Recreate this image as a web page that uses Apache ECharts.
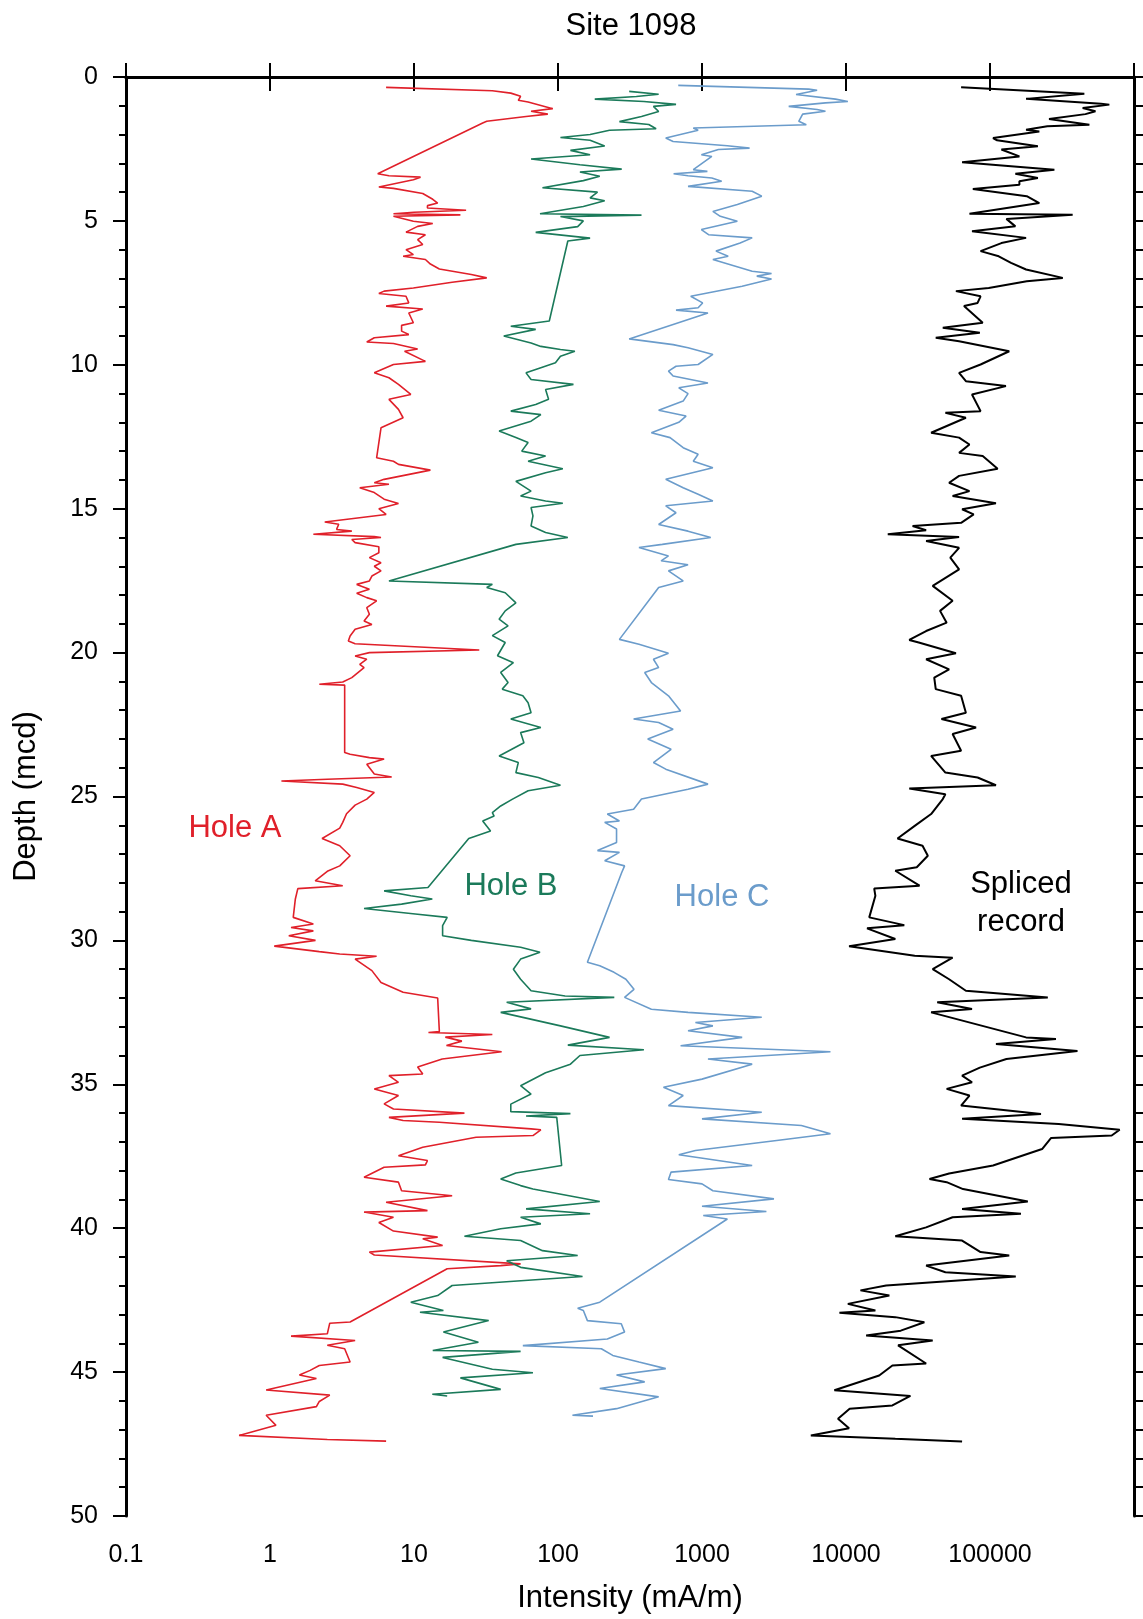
<!DOCTYPE html>
<html>
<head>
<meta charset="utf-8">
<title>Site 1098</title>
<script src="https://cdn.jsdelivr.net/npm/echarts@6/dist/echarts.min.js"></script>
<style>
html,body{margin:0;padding:0;background:#fff}
#chart{width:1143px;height:1619px}
</style>
</head>
<body>
<div id="chart"></div>
<script>
// tick labels of the log intensity axis (one per decade, 0.1 .. 1e6)
var xTickLabels = ['0.1', '1', '10', '100', '1000', '10000', '100000', ''];

// Hole A (red)
var depthA = [0.36,0.48,0.56,0.67,0.81,0.87,1.10,1.19,1.29,1.37,1.54,1.60,3.36,3.43,3.48,3.57,3.82,3.87,4.05,4.25,4.38,4.47,4.55,4.63,4.70,4.75,4.79,4.84,
    5.01,5.09,5.19,5.39,5.48,5.65,5.82,6.00,6.17,6.23,6.34,6.50,6.67,6.86,6.98,7.13,7.33,7.44,7.52,7.62,7.85,7.96,8.06,8.20,8.54,8.63,8.83,8.95,
    9.06,9.21,9.26,9.45,9.53,9.88,9.99,10.28,10.45,10.68,11.03,11.20,11.55,11.84,12.19,13.23,13.35,13.46,13.66,13.98,14.10,14.15,14.27,14.44,14.67,14.82,
    15.00,15.20,15.46,15.54,15.72,15.78,15.89,15.97,16.00,16.07,16.18,16.32,16.53,16.70,16.88,17.00,17.16,17.34,17.51,17.63,17.80,17.94,18.09,18.20,
    18.44,18.67,18.90,19.02,19.19,19.42,19.60,19.69,19.91,20.00,20.12,20.23,20.41,20.52,20.87,21.02,21.10,21.13,23.47,23.53,23.65,23.70,23.88,24.22,
    24.32,24.40,24.46,24.57,24.69,24.86,25.09,25.30,25.60,25.90,26.10,26.46,26.71,27.06,27.41,27.60,27.93,28.10,28.20,28.56,29.20,29.43,29.55,29.67,
    29.84,30.00,30.20,30.39,30.47,30.55,30.65,31.05,31.46,31.80,32.00,33.17,33.20,33.27,33.36,33.50,33.65,33.87,34.12,34.40,34.64,34.70,34.93,35.16,
    35.39,35.68,35.86,36.00,36.15,36.26,36.32,36.55,36.58,36.78,36.84,37.19,37.48,37.65,37.80,37.88,38.23,38.40,38.70,38.87,39.10,39.39,39.44,39.62,
    39.80,40.10,40.31,40.37,40.60,40.83,40.93,41.24,41.30,41.41,43.26,43.30,43.67,43.75,43.90,44.07,44.19,44.65,44.77,44.94,45.10,45.22,45.62,45.80,
    46.02,46.20,46.50,46.85,47.20,47.34,47.40];
var intensityA = [6.4,35,47,55,53,62,92,65,85,60,32,30,5.6,6.7,11.1,9.9,5.7,7.2,11.5,13.5,14.6,12.4,12.4,23,10,7.2,21,7.2,
    9.9,13.5,10.6,8.8,12,10.6,11.5,8.8,9.9,8.4,12,13,15,25,32,18.4,9.9,6.2,5.7,8.8,9.2,6.4,11.5,9.2,9.9,8.2,8.2,9.2,
    5.3,4.7,7.2,10.6,8.6,12,7.2,5.3,6.7,7.8,9.5,6.7,7.8,8.4,5.9,5.5,7.2,7.8,13,6.2,5.3,6.7,4.2,5.3,6.2,7.8,
    5.7,6.4,2.4,3.0,2.9,3.7,2.0,5.3,5.9,3.7,3.9,5.7,5.7,4.9,5.9,5.3,5.9,5.1,4.9,4.0,4.9,4.0,4.7,5.5,
    4.7,4.9,4.5,5.1,3.9,3.6,3.5,3.9,28.4,4.9,3.9,4.7,4.2,4.5,3.7,3.2,2.2,3.3,3.3,3.6,4.9,6.2,4.7,5.3,
    7.0,2.5,1.2,3.2,4.0,5.3,4.7,3.9,3.4,3.2,3.05,2.3,3.05,3.6,3.05,2.5,2.06,3.2,1.56,1.5,1.45,2.0,1.4,2.0,
    1.35,2.07,1.07,2.2,3.05,5.5,3.9,5.1,5.9,8.4,14.6,15,12.6,35,16.5,21.5,16.8,40.6,15.7,10.6,11.5,6.7,7.8,5.3,
    7.8,6.2,7.2,22.4,6.7,8.4,15,65,76,67,27,11.5,7.8,12.4,12.0,6.2,4.5,7.8,8.2,18.4,6.4,12.4,4.5,7.2,
    5.7,7.2,14.6,11.5,15.8,4.9,5.3,55,40,17,3.6,2.6,2.5,1.4,3.9,2.5,3.3,3.6,2.2,1.9,1.6,2.1,0.94,2.6,
    2.2,2.1,0.94,1.1,0.61,2.5,6.4];

// Hole B (green)
var depthB = [0.50,0.60,0.68,0.77,0.85,0.95,1.02,1.20,1.37,1.55,1.65,1.80,1.85,2.00,2.10,2.20,2.40,2.55,2.70,2.85,3.05,3.20,3.30,3.45,3.60,3.85,
    4.00,4.20,4.30,4.50,4.75,4.80,4.85,5.00,5.20,5.40,5.60,5.70,8.48,8.66,8.77,9.00,9.24,9.36,9.47,9.53,9.70,9.93,10.10,10.28,10.51,10.68,10.86,
    11.20,11.38,11.61,11.73,11.96,12.30,12.53,12.70,13.00,13.17,13.35,13.61,13.75,14.05,14.39,14.56,14.73,14.81,14.96,15.25,15.60,15.83,16.00,16.24,
    17.51,17.63,17.74,17.92,18.27,18.55,18.84,19.07,19.41,19.65,20.11,20.35,20.69,21.04,21.27,21.50,21.74,22.09,22.31,22.60,22.78,23.13,23.59,23.82,
    24.17,24.34,24.61,24.80,25.10,25.33,25.56,25.68,25.85,26.20,26.46,28.16,28.28,28.45,28.56,28.74,28.89,29.08,29.20,29.49,29.84,30.00,30.24,30.41,
    30.65,31.00,31.35,31.75,31.93,31.98,32.15,32.38,32.50,32.97,33.37,33.64,33.80,34.00,34.30,34.60,35.05,35.34,35.69,35.95,36.02,36.10,36.15,37.82,
    38.08,38.29,38.52,38.64,39.07,39.33,39.50,39.62,39.85,40.02,40.28,40.43,40.78,40.95,41.13,41.36,41.68,41.99,42.34,42.57,42.86,42.92,43.21,43.61,
    43.96,44.25,44.28,44.49,44.90,45.02,45.20,45.60,45.77,45.83];
var intensityB = [312,500,350,180,395,660,460,500,380,267,427,480,228,167,104,167,211,122,167,65,142,277,142,195,150,78,
    188,167,211,150,75,380,104,150,137,70,167,117,87,47,70,42,65,76,104,131,104,96,76,60,65,128,82,
    86,70,47,76,65,39,51,62,56,82,62,108,82,51,65,55,82,108,65,67,65,82,117,51,
    6.7,35,32,43,51,43,39,45,35,43,38,49,40,45,41,57,62,65,47,76,55,58,39,53,
    51,73,104,62,48,40,35,36,30,34,24,12.5,6.2,9.5,13.4,8.2,4.5,10.2,17,15.8,15.8,25,55,75,
    55,49,55,65,112,246,44,65,40,104,228,117,395,142,122,82,55,65,47,47,122,60,98,106,
    51,40,55,67,195,60,167,55,76,40,22.4,55,78,137,44,55,148,18.4,14.6,9.5,16,11,33,16,
    28,13.5,55,15.8,35,67,21,40,13.4,17];

// Hole C (blue)
var depthC = [0.29,0.42,0.46,0.61,0.77,0.85,0.90,1.02,1.13,1.19,1.29,1.54,1.66,1.77,1.85,2.12,2.24,2.39,2.47,2.52,2.70,2.76,3.22,3.28,3.36,3.43,
    3.51,3.62,3.80,3.97,4.14,4.43,4.67,4.84,5.01,5.30,5.48,5.59,5.77,6.05,6.23,6.34,6.75,6.83,6.92,7.02,7.27,7.62,7.85,8.02,8.10,8.20,9.10,9.30,
    9.41,9.64,9.99,10.05,10.22,10.39,10.63,10.80,11.00,11.26,11.58,11.78,12.00,12.36,12.53,12.88,13.11,13.35,13.58,13.98,14.27,14.50,14.73,14.90,
    15.14,15.55,15.78,16.00,16.24,16.35,16.64,16.81,16.95,17.16,17.51,17.74,19.54,19.71,20.02,20.23,20.52,20.69,21.04,21.50,22.03,22.31,22.43,22.66,
    23.00,23.36,23.82,24.05,24.57,24.75,25.09,25.44,25.61,25.85,25.90,26.13,26.60,26.88,26.94,27.23,27.41,27.64,30.76,30.88,31.11,31.35,31.70,31.98,
    32.39,32.50,32.67,32.85,32.97,33.14,33.37,33.66,33.87,34.12,34.30,34.82,35.10,35.39,35.74,35.97,36.20,36.43,36.72,36.95,37.30,37.45,37.82,38.05,
    38.31,38.46,38.70,38.98,39.24,39.42,39.56,39.68,42.57,42.78,42.86,43.21,43.32,43.61,43.85,44.08,44.19,44.42,44.65,44.88,45.10,45.34,45.57,45.86,
    46.27,46.50,46.53];
var intensityC = [684,5500,6300,4500,8450,10300,7200,4000,6300,7200,5000,4700,5300,870,940,560,630,1500,2140,1300,990,1170,870,1090,635,800,
    1170,1370,800,2230,2600,1760,1190,1340,1760,990,1110,2230,1840,1250,1520,1190,2230,3040,2400,3040,1900,835,1010,940,660,1100,312,630,
    800,1190,940,660,585,630,1100,690,800,740,500,775,690,445,600,740,940,870,1190,560,740,940,1190,560,
    660,500,800,1150,530,365,585,520,800,585,740,500,267,365,585,460,500,400,445,585,710,335,500,630,
    420,610,460,560,1100,800,380,335,220,267,211,255,255,188,267,211,290,277,160,195,245,296,337,290,
    445,800,2600,900,1190,800,1900,710,7800,1100,2230,1000,540,740,585,2600,1000,4900,7800,3300,900,690,2230,610,
    585,1000,1190,3160,1000,2800,1020,1500,195,137,150,160,275,290,220,57,200,240,365,560,255,400,195,500,
    255,126,175];

// Spliced record (black)
var depthS = [0.36,0.58,0.76,0.93,0.96,1.08,1.19,1.29,1.46,1.66,1.71,1.83,1.89,2.12,2.20,2.41,2.52,2.76,2.96,3.10,3.22,3.36,3.51,3.62,3.74,3.89,
    4.14,4.38,4.75,4.79,4.93,5.19,5.36,5.59,5.77,6.05,6.23,6.46,6.69,6.98,7.10,7.33,7.44,7.62,7.85,7.96,8.54,8.71,8.89,9.06,9.18,9.53,9.99,10.28,
    10.57,10.74,11.03,11.61,11.67,11.84,12.36,12.53,12.77,13.06,13.17,13.61,13.86,14.10,14.39,14.56,14.81,15.02,15.20,15.49,15.60,15.75,15.89,15.98,
    16.12,16.36,16.70,17.11,17.68,18.20,18.55,18.96,19.25,19.56,19.65,20.02,20.23,20.58,20.87,21.27,21.50,22.09,22.31,22.60,22.83,23.41,23.59,24.17,
    24.34,24.61,24.72,24.92,25.09,25.61,26.02,26.46,26.71,27.06,27.46,27.58,28.10,28.20,28.45,29.20,29.47,29.58,29.95,30.20,30.53,30.60,31.00,31.35,
    31.75,31.98,32.15,32.38,32.50,33.37,33.43,33.60,33.84,34.12,34.42,34.70,34.93,35.16,35.39,35.74,36.03,36.20,36.38,36.58,36.78,36.87,37.25,37.82,
    38.10,38.29,38.40,38.64,39.07,39.33,39.50,39.62,39.97,40.28,40.43,40.83,40.95,41.30,41.53,41.68,41.99,42.16,42.34,42.63,42.86,42.94,43.09,43.27,
    43.56,43.73,43.90,44.07,44.70,44.77,45.12,45.63,45.83,46.16,46.27,46.62,46.95,47.20,47.32,47.41];
var intensityS = [63000,452000,178000,590000,674000,440000,540000,460000,257000,490000,250000,178000,220000,105000,112000,215000,120000,160000,64000,140000,280000,150000,215000,160000,160000,76000,
    180000,220000,72000,375000,130000,150000,75000,178000,120000,86000,115000,140000,178000,320000,180000,98000,58000,86000,82000,66000,89000,47000,85000,42000,61000,136000,86000,61000,
    68000,129000,75000,86000,49000,68000,39000,61000,72000,61000,89000,113000,61000,52000,72000,55000,110000,64000,77000,63000,29000,36000,19500,61000,
    36000,61000,53000,61000,40000,55000,45000,50000,36000,27500,32000,58000,36000,52000,41000,42000,63000,68000,46000,80000,55000,63000,39000,49000,
    82000,110000,27500,49000,47000,39000,30000,22800,34000,37000,31000,22000,32400,15700,16000,14500,25400,14000,22000,10500,30000,55000,40000,52000,
    68000,252000,43000,75000,39000,178000,287000,110000,405000,130000,85000,64000,75000,50000,72000,63000,226000,64000,300000,795000,700000,265000,230000,105000,
    52000,38000,50000,65000,183000,64000,164000,55000,36000,22000,64000,86000,136000,36000,49000,151000,19000,12600,20000,10300,16000,9000,22000,35000,
    24000,13800,40000,23000,36000,21000,17000,8300,28000,21000,10600,8800,10500,5700,22000,64000];

var FONT = 'Liberation Sans, Arial, Helvetica, sans-serif';

function pairs(depths, values) {
    var out = [];
    for (var i = 0; i < depths.length; i++) {
        out.push([values[i], depths[i]]);
    }
    return out;
}

function profile(name, depths, values, color, width) {
    return {
        name: name,
        type: 'line',
        xAxisIndex: 0,
        yAxisIndex: 0,
        showSymbol: false,
        symbol: 'none',
        lineStyle: {color: color, width: width},
        data: pairs(depths, values)
    };
}

var chart = echarts.init(document.getElementById('chart'));

var option = {
    animation: false,
    backgroundColor: '#fff',
    grid: {left: 126, right: 9, top: 77, bottom: 102},
    xAxis: [{
        type: 'log',
        logBase: 10,
        min: 0.1,
        max: 1000000,
        position: 'bottom',
        name: 'Intensity (mA/m)',
        nameLocation: 'middle',
        nameGap: 67,
        nameTextStyle: {fontFamily: FONT, fontSize: 31, color: '#000'},
        axisLine: {lineStyle: {color: '#000', width: 3}},
        axisTick: {show: true, length: 14, lineStyle: {color: '#000', width: 2}},
        axisLabel: {
            margin: 27,
            fontFamily: FONT,
            fontSize: 25,
            color: '#000',
            formatter: function (v) {
                var k = Math.round(Math.log(v) / Math.LN10) + 1;
                return xTickLabels[k] || '';
            }
        },
        splitLine: {show: false}
    }, {
        type: 'log',
        logBase: 10,
        min: 0.1,
        max: 1000000,
        position: 'top',
        axisLine: {lineStyle: {color: '#000', width: 3}},
        axisTick: {show: true, length: 14, lineStyle: {color: '#000', width: 2}},
        axisLabel: {show: false},
        splitLine: {show: false}
    }],
    yAxis: [{
        type: 'value',
        inverse: true,
        min: 0,
        max: 50,
        interval: 5,
        position: 'left',
        name: 'Depth (mcd)',
        nameLocation: 'middle',
        nameRotate: 90,
        nameGap: 84,
        nameTextStyle: {fontFamily: FONT, fontSize: 31, color: '#000'},
        axisLine: {show: true, lineStyle: {color: '#000', width: 3}},
        axisTick: {show: true, length: 13, lineStyle: {color: '#000', width: 2}},
        minorTick: {show: true, splitNumber: 5, length: 7, lineStyle: {color: '#000', width: 2}},
        axisLabel: {margin: 28, fontFamily: FONT, fontSize: 25, color: '#000'},
        splitLine: {show: false},
        minorSplitLine: {show: false}
    }, {
        type: 'value',
        inverse: true,
        min: 0,
        max: 50,
        interval: 5,
        position: 'right',
        axisLine: {show: true, lineStyle: {color: '#000', width: 3}},
        axisTick: {show: true, length: 9, lineStyle: {color: '#000', width: 2}},
        minorTick: {show: true, splitNumber: 5, length: 9, lineStyle: {color: '#000', width: 2}},
        axisLabel: {show: false},
        splitLine: {show: false}
    }],
    graphic: [
        {type: 'text', x: 631, y: 26, style: {text: 'Site 1098', fill: '#000', font: '31px ' + FONT, align: 'center', verticalAlign: 'middle'}},
        {type: 'text', x: 235, y: 828, style: {text: 'Hole A', fill: '#e0202a', font: '31px ' + FONT, align: 'center', verticalAlign: 'middle'}},
        {type: 'text', x: 511, y: 886, style: {text: 'Hole B', fill: '#1b7a5a', font: '31px ' + FONT, align: 'center', verticalAlign: 'middle'}},
        {type: 'text', x: 722, y: 897, style: {text: 'Hole C', fill: '#6b9ccb', font: '31px ' + FONT, align: 'center', verticalAlign: 'middle'}},
        {type: 'text', x: 1021, y: 884, style: {text: 'Spliced', fill: '#000', font: '31px ' + FONT, align: 'center', verticalAlign: 'middle'}},
        {type: 'text', x: 1021, y: 922, style: {text: 'record', fill: '#000', font: '31px ' + FONT, align: 'center', verticalAlign: 'middle'}}
    ],
    series: [
        profile('Hole A', depthA, intensityA, '#e0202a', 1.6),
        profile('Hole B', depthB, intensityB, '#1b7a5a', 1.6),
        profile('Hole C', depthC, intensityC, '#6b9ccb', 1.6),
        profile('Spliced record', depthS, intensityS, '#000', 2)
    ]
};

chart.setOption(option);
</script>
</body>
</html>
